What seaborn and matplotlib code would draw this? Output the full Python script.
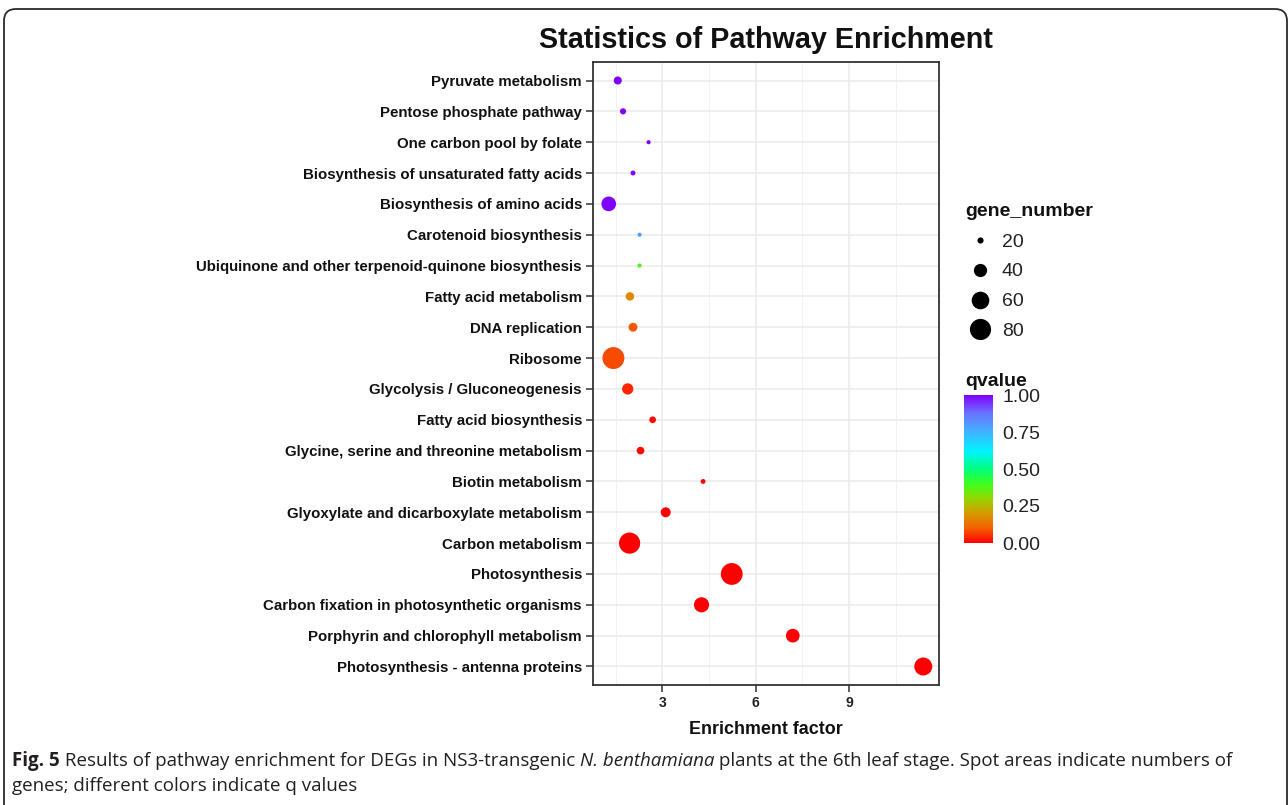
import matplotlib
matplotlib.use("Agg")
import matplotlib.pyplot as plt
import numpy as np
import pandas as pd
import seaborn as sns
from matplotlib.colors import LinearSegmentedColormap, Normalize
from matplotlib.cm import ScalarMappable
from matplotlib.lines import Line2D
from matplotlib.patches import FancyBboxPatch
from matplotlib.ticker import FixedLocator
from matplotlib.transforms import IdentityTransform

# ---- KEGG enrichment results (top of the list is drawn at the top) ----
pathways = [
    "Pyruvate metabolism",
    "Pentose phosphate pathway",
    "One carbon pool by folate",
    "Biosynthesis of unsaturated fatty acids",
    "Biosynthesis of amino acids",
    "Carotenoid biosynthesis",
    "Ubiquinone and other terpenoid-quinone biosynthesis",
    "Fatty acid metabolism",
    "DNA replication",
    "Ribosome",
    "Glycolysis / Gluconeogenesis",
    "Fatty acid biosynthesis",
    "Glycine, serine and threonine metabolism",
    "Biotin metabolism",
    "Glyoxylate and dicarboxylate metabolism",
    "Carbon metabolism",
    "Photosynthesis",
    "Carbon fixation in photosynthetic organisms",
    "Porphyrin and chlorophyll metabolism",
    "Photosynthesis - antenna proteins",
]
rich_factor = [1.57, 1.74, 2.56, 2.06, 1.28, 2.27, 2.27, 1.96, 2.06, 1.43,
               1.89, 2.69, 2.30, 4.31, 3.11, 1.95, 5.23, 4.26, 7.19, 11.38]
gene_number = [24, 20, 17, 18, 46, 17, 17, 25, 26, 85,
               33, 21, 23, 18, 29, 80, 84, 48, 42, 62]
qvalue = [1.00, 1.00, 1.00, 1.00, 1.00, 0.80, 0.38, 0.17, 0.09, 0.08,
          0.04, 0.01, 0.01, 0.01, 0.00, 0.00, 0.00, 0.00, 0.00, 0.00]

size_breaks = [20, 40, 60, 80]
q_ticks = [0.00, 0.25, 0.50, 0.75, 1.00]
x_ticks = [3, 6, 9]
x_minor = [1.5, 4.5, 7.5, 10.5]

caption_bold = "Fig. 5"
caption_a = " Results of pathway enrichment for DEGs in NS3-transgenic "
caption_italic = "N. benthamiana"
caption_b = " plants at the 6th leaf stage. Spot areas indicate numbers of"
caption_line2 = "genes; different colors indicate q values"

# ---- scales ----
SIZE_NORM = (17, 85)          # gene-number range mapped to marker area
SIZE_RANGE = (9.0, 250.0)     # marker area in pt^2
q_cmap = LinearSegmentedColormap.from_list("qvalue", [
    (0.00, "#FF0000"),
    (0.10, "#F46000"),
    (0.20, "#D69A00"),
    (0.30, "#94D600"),
    (0.40, "#3CFF1E"),
    (0.50, "#00FF80"),
    (0.62, "#00F4FF"),
    (0.76, "#44AEFF"),
    (0.88, "#6A72FF"),
    (1.00, "#8000FF"),
])
q_norm = Normalize(0, 1)


def marker_area(n):
    lo, hi = SIZE_NORM
    t = (np.asarray(n, dtype=float) - lo) / (hi - lo)
    return SIZE_RANGE[0] + t * (SIZE_RANGE[1] - SIZE_RANGE[0])


df = pd.DataFrame({
    "pathway": pathways,
    "rich_factor": rich_factor,
    "gene_number": gene_number,
    "qvalue": qvalue,
})

sns.set_theme(style="whitegrid")
plt.rcParams["font.family"] = ["Liberation Sans", "DejaVu Sans"]

W, H = 1288, 805
fig = plt.figure(figsize=(W / 100, H / 100), dpi=100)
fig.patch.set_facecolor("white")

ax_l, ax_r, ax_t, ax_b = 593, 939, 62, 685
ax = fig.add_axes([ax_l / W, 1 - ax_b / H, (ax_r - ax_l) / W, (ax_b - ax_t) / H])
ax.set_facecolor("white")

sns.scatterplot(
    data=df, x="rich_factor", y="pathway",
    size="gene_number", sizes=SIZE_RANGE, size_norm=SIZE_NORM,
    hue="qvalue", palette=q_cmap, hue_norm=q_norm,
    linewidth=0, legend=False, ax=ax, zorder=3,
)

n = len(pathways)
ax.set_ylim(n - 0.4, -0.6)
ax.set_xlim(0.775, 11.885)
ax.set_xticks(x_ticks)
ax.set_xticklabels([str(v) for v in x_ticks])
ax.xaxis.set_minor_locator(FixedLocator(x_minor))

ax.grid(which="major", color="#EBEBEB", linewidth=1.1)
ax.grid(which="minor", axis="x", color="#F2F2F2", linewidth=0.7)
ax.set_axisbelow(True)

for sp in ax.spines.values():
    sp.set_visible(True)
    sp.set_color("#333333")
    sp.set_linewidth(1.3)

ax.tick_params(axis="both", which="major", length=5, width=1.1, color="#333333",
               direction="out", left=True, bottom=True, pad=3)
ax.tick_params(axis="both", which="minor", length=0)
for lab in ax.get_yticklabels():
    lab.set_fontsize(10.8)
    lab.set_fontweight("bold")
    lab.set_color("#111111")
for lab in ax.get_xticklabels():
    lab.set_fontsize(10)
    lab.set_fontweight("bold")
    lab.set_color("#222222")

ax.set_ylabel("")
ax.set_xlabel("Enrichment factor", fontsize=12.9, fontweight="bold",
              color="#111111", labelpad=8)

fig.text(766 / W, 1 - 40 / H, "Statistics of Pathway Enrichment",
         fontsize=20.7, fontweight="bold", ha="center", va="center",
         color="#111111")

# ---- size legend ----
fig.text(965 / W, 1 - 211 / H, "gene_number", fontsize=14, fontweight="bold",
         ha="left", va="center", color="#111111")
handles = [Line2D([], [], linestyle="none", marker="o", color="black",
                  markeredgewidth=0, markersize=float(np.sqrt(marker_area(b))))
           for b in size_breaks]
leg = fig.legend(handles, [str(b) for b in size_breaks],
                 loc="upper left", bbox_to_anchor=(966 / W, 1 - 233 / H),
                 bbox_transform=fig.transFigure, frameon=False,
                 fontsize=14, labelspacing=0.63, handlelength=1.4,
                 handletextpad=0.45, borderpad=0, borderaxespad=0)
for t in leg.get_texts():
    t.set_color("#222222")

# ---- q-value colour bar ----
fig.text(965 / W, 1 - 381 / H, "qvalue", fontsize=14, fontweight="bold",
         ha="left", va="center", color="#111111")
cb_l, cb_r, cb_t, cb_b = 964, 993, 395, 543
cax = fig.add_axes([cb_l / W, 1 - cb_b / H, (cb_r - cb_l) / W, (cb_b - cb_t) / H])
cb = fig.colorbar(ScalarMappable(norm=q_norm, cmap=q_cmap), cax=cax)
cb.outline.set_visible(False)
cb.set_ticks(q_ticks)
cb.set_ticklabels([f"{v:.2f}" for v in q_ticks])
cax.tick_params(axis="y", direction="in", color="white", length=6, width=1,
                left=True, right=True, labelsize=14, labelcolor="#222222", pad=7)
cax.grid(False)

# ---- caption ----
renderer = fig.canvas.get_renderer()
cap_size = 13.5
cap_color = "#231F20"
x_px = 12
base1 = H - 766
pieces = [(caption_bold, "bold", "normal"), (caption_a, "normal", "normal"),
          (caption_italic, "normal", "italic"), (caption_b, "normal", "normal")]
for txt, weight, style in pieces:
    t = fig.text(x_px / W, base1 / H, txt, fontsize=cap_size, fontweight=weight,
                 fontstyle=style, family=["Open Sans", "DejaVu Sans"],
                 ha="left", va="baseline", color=cap_color)
    bb = t.get_window_extent(renderer=renderer)
    x_px = bb.x1
fig.text(12 / W, (H - 791) / H, caption_line2, fontsize=cap_size,
         family=["Open Sans", "DejaVu Sans"], ha="left", va="baseline",
         color=cap_color)

# ---- rounded frame around the figure panel ----
frame = FancyBboxPatch((4, -20), 1283, H - 9 + 20,
                       boxstyle="round,pad=0,rounding_size=12",
                       transform=IdentityTransform(), fill=False,
                       edgecolor="#2b2b2b", linewidth=1.3)
fig.patches.append(frame)

fig.savefig("out.png", dpi=100, facecolor="white")
